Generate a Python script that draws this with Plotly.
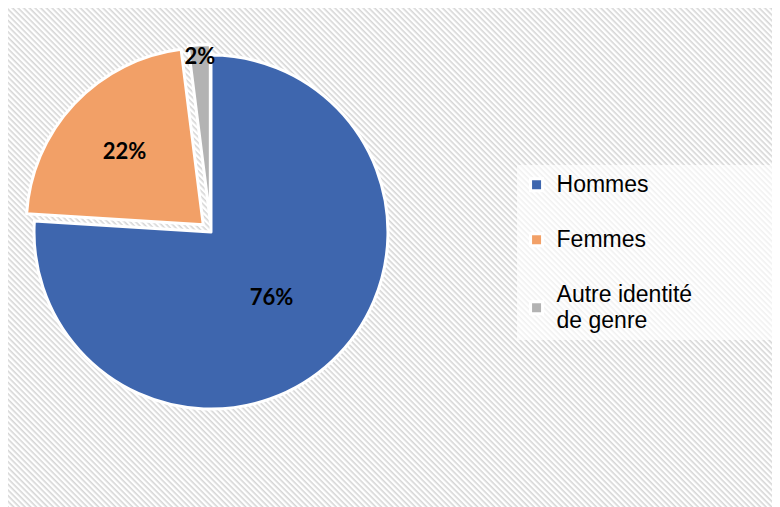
import base64
import plotly.graph_objects as go

# Répartition par genre
labels = ["Hommes", "<br>Femmes<br>", "Autre identité<br>de genre"]
values = [76, 22, 2]
colors = ["#3e66ae", "#f2a067", "#b3b3b3"]
pulls = [0, 0.06, 0.06]

# legend text a bit bigger than the line spacing font
legend_labels = ['<span style="font-size:23px">' + l.replace("<br>", '</span><br><span style="font-size:23px">') + "</span>"
                 for l in labels]
# pad the widest entry so the legend box runs to the right edge
legend_labels[2] = legend_labels[2].replace("identité", "identité" + "&nbsp;" * 13)

# hatched background like the original
svg = ('<svg xmlns="http://www.w3.org/2000/svg" width="780" height="507">'
       '<defs><pattern id="p" width="4" height="4" patternUnits="userSpaceOnUse" '
       'patternTransform="rotate(45)"><rect width="4" height="4" fill="#ffffff"/>'
       '<rect width="4" height="1.6" fill="#d6d6d6"/></pattern></defs>'
       '<rect width="780" height="507" fill="url(#p)"/></svg>')
bg = "data:image/svg+xml;base64," + base64.b64encode(svg.encode()).decode()

fig = go.Figure(go.Pie(
    labels=legend_labels,
    values=values,
    sort=False,
    direction="clockwise",
    rotation=0,
    pull=pulls,
    automargin=False,
    marker=dict(colors=colors, line=dict(color="white", width=3)),
    texttemplate="<b>%{percent:.0%}</b>",
    textposition="inside",
    insidetextorientation="horizontal",
    textfont=dict(family="Lato", size=22, color="black"),
    domain=dict(x=[0.0197, 0.5008], y=[0.188, 0.928]),
))

fig.update_layout(
    width=780, height=507,
    margin=dict(l=0, r=0, t=0, b=0, pad=0),
    paper_bgcolor="#efefef",
    plot_bgcolor="rgba(0,0,0,0)",
    font=dict(family="Liberation Sans", size=20, color="black"),
    uniformtext=dict(minsize=22, mode="show"),
    legend=dict(x=0.652, y=0.69, xanchor="left", yanchor="top",
                bgcolor="rgba(255,255,255,0.65)", font=dict(size=20)),
    images=[dict(source=bg, xref="paper", yref="paper", x=0, y=1,
                 sizex=1, sizey=1, xanchor="left", yanchor="top",
                 sizing="stretch", layer="below")],
)

fig.write_html("out.html")
